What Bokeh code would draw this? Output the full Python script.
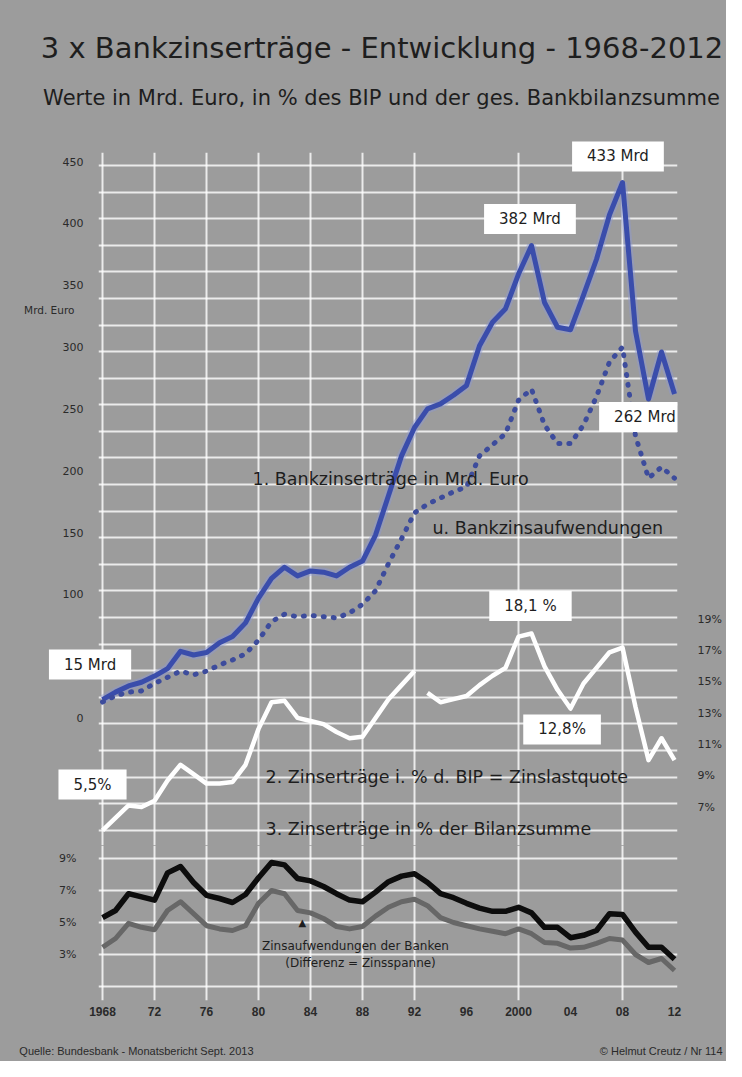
from bokeh.plotting import figure
from bokeh.models import Range1d, LinearAxis, FixedTicker, Label
from bokeh.layouts import column
from bokeh.embed import file_html
from bokeh.resources import INLINE

# ---------------- data ----------------
years = list(range(1968, 2013))
zinsertraege_mrd = [15, 21, 26, 29, 34, 40, 54, 51, 53, 61, 66, 77,
                    97, 113, 122, 115, 119, 118, 115, 122, 127, 148,
                    180, 212, 235, 250, 254, 261, 269, 301, 320, 331,
                    359, 382, 336, 316, 314, 342, 371, 407, 433, 313,
                    258, 296, 262]
zinsaufwand_mrd = [13, 18, 21, 22, 28, 33, 38, 35, 38, 43, 47, 52,
                   63, 78, 84, 82, 83, 82, 81, 85, 92, 103,
                   125, 145, 166, 173, 178, 183, 187, 212, 221, 230,
                   257, 266, 237, 222, 222, 237, 260, 288, 300, 228,
                   194, 203, 194]
years_west = list(range(1968, 1993))
zinslastquote_west = [5.5, 6.3, 7.1, 7.0, 7.4, 8.7, 9.7, 9.1, 8.5, 8.5, 8.6, 9.7,
                      12.0, 13.7, 13.8, 12.7, 12.5, 12.3, 11.8, 11.4, 11.5, 12.7,
                      13.9, 14.8, 15.7]
years_ges = list(range(1993, 2013))
zinslastquote_ges = [14.3, 13.7, 13.9, 14.1, 14.8, 15.4, 15.9,
                     17.9, 18.1, 16.0, 14.5, 13.3, 14.9, 15.9, 16.9, 17.2, 13.4,
                     10.0, 11.4, 10.0]
ertrag_bilanz = [5.3, 5.75, 6.8, 6.6, 6.4, 8.1, 8.5, 7.5, 6.7, 6.5, 6.25, 6.75,
                 7.8, 8.75, 8.6, 7.75, 7.6, 7.25, 6.8, 6.4, 6.3, 6.9,
                 7.55, 7.9, 8.05, 7.5, 6.8, 6.55, 6.2, 5.9, 5.7, 5.7,
                 5.95, 5.6, 4.7, 4.7, 4.05, 4.2, 4.5, 5.55, 5.5, 4.4,
                 3.45, 3.45, 2.7]
aufwand_bilanz = [3.45, 4.0, 4.95, 4.7, 4.55, 5.75, 6.3, 5.55, 4.8, 4.6, 4.5, 4.8,
                  6.2, 7.0, 6.8, 5.75, 5.6, 5.25, 4.75, 4.6, 4.75, 5.4,
                  5.95, 6.3, 6.45, 6.05, 5.3, 5.0, 4.8, 4.6, 4.45, 4.3,
                  4.6, 4.3, 3.75, 3.7, 3.4, 3.45, 3.7, 4.0, 3.9, 3.0,
                  2.5, 2.75, 2.0]

mrd_ticks = [0, 100, 150, 200, 250, 300, 350, 400, 450]
bip_ticks = [7, 9, 11, 13, 15, 17, 19]
bilanz_ticks = [3, 5, 7, 9]
year_ticks = list(range(1968, 2013, 4))
year_labels = ["1968", "72", "76", "80", "84", "88", "92", "96", "2000", "04", "08", "12"]

# ---------------- styling ----------------
BG = "#9c9c9c"
FONT = "DejaVu Sans"
FONT2 = "Liberation Sans"
TXT = "#1e1e1e"
W = 726
XR = Range1d(1967.69, 2012.23)


def mk_label(x, y, text, rng="default", font=FONT, size="15px", align="center",
             style="normal", color=TXT, boxed=False):
    kw = dict(x=x, y=y, text=text, y_range_name=rng, text_font=font,
              text_font_size=size, text_color=color, text_align=align,
              text_baseline="middle", text_font_style=style)
    if boxed:
        kw["background_fill_color"] = "white"
        try:
            return Label(padding=dict(left=15, right=15, top=6, bottom=6), **kw)
        except Exception:
            return Label(padding=7, **kw)
    return Label(**kw)


# ---------------- upper figure ----------------
p = figure(width=W, height=845, x_range=XR, y_range=Range1d(-103.0, 457.3),
           output_backend="svg", toolbar_location=None,
           x_axis_location=None, y_axis_location="left",
           min_border_left=98, min_border_right=49, min_border_top=152, min_border_bottom=0)
p.background_fill_color = BG
p.border_fill_color = BG
p.outline_line_color = None
p.extra_y_ranges = {"bip": Range1d(4.537, 48.88)}

# grids
hgrid = [446.8 - 21.5 * k for k in range(26)]
vgrid = [1968, 1972, 1976, 1980, 1984, 1988, 1992, 2000, 2008]
p.ygrid.ticker = FixedTicker(ticks=hgrid)
p.xgrid.ticker = FixedTicker(ticks=vgrid)
for g in (p.xgrid, p.ygrid):
    g.grid_line_color = "white"
    g.grid_line_width = 2
    g.grid_line_alpha = 0.8

yax = p.yaxis[0]
yax.ticker = FixedTicker(ticks=mrd_ticks)
rax = LinearAxis(y_range_name="bip", ticker=FixedTicker(ticks=bip_ticks),
                 major_label_overrides={t: f"{t}%" for t in bip_ticks})
p.add_layout(rax, "right")
for ax in (yax, rax):
    ax.axis_line_color = None
    ax.major_tick_line_color = None
    ax.minor_tick_line_color = None
    ax.major_tick_out = 0
    ax.major_tick_in = 0
    ax.major_label_text_font = FONT
    ax.major_label_text_font_size = "11px"
    ax.major_label_text_color = "#2a2a2a"
yax.major_label_standoff = 15
rax.major_label_standoff = 20

# lines
p.line(years, zinsertraege_mrd, line_color="#8f99d2", line_width=9, line_alpha=0.45)
p.line(years, zinsertraege_mrd, line_color="#3a4dab", line_width=5, line_join="round")
p.line(years, zinsaufwand_mrd, line_color="#3d4c9c", line_width=5, line_dash="1 9",
       line_cap="round", line_join="round")
p.line(years_west, zinslastquote_west, y_range_name="bip", line_color="white",
       line_width=4.5, line_join="round")
p.line(years_ges, zinslastquote_ges, y_range_name="bip", line_color="white",
       line_width=4.5, line_join="round")

# texts outside the frame go to side panels (not clipped there)
p.add_layout(mk_label(1989.5, 541.4, "3 x Bankzinserträge - Entwicklung - 1968-2012",
                      size="29px"), "above")
p.add_layout(mk_label(1989.46, 501.0,
                      "Werte in Mrd. Euro, in % des BIP und der ges. Bankbilanzsumme",
                      size="21px"), "above")
p.add_layout(mk_label(2007.65, 454.1, "433 Mrd", boxed=True), "above")
p.add_layout(mk_label(1967.04, 43.3, "15 Mrd", boxed=True), "above")
p.add_layout(mk_label(1967.23, 8.44, "5,5%", rng="bip", boxed=True), "above")
p.add_layout(mk_label(1963.9, 329.6, "Mrd. Euro", size="10.5px", color="#2a2a2a"), "left")

# texts inside the frame
p.add_layout(mk_label(2000.88, 403.5, "382 Mrd", boxed=True))
p.add_layout(mk_label(2009.73, 243.5, "262 Mrd", boxed=True))
p.add_layout(mk_label(2000.92, 19.86, "18,1 %", rng="bip", boxed=True))
p.add_layout(mk_label(2003.35, 11.96, "12,8%", rng="bip", boxed=True))

p.add_layout(mk_label(1979.54, 193.7, "1.  Bankzinserträge in Mrd. Euro",
                      size="17.5px", align="left"))
p.add_layout(mk_label(1993.38, 154.1, "u. Bankzinsaufwendungen",
                      size="17.5px", align="left"))
p.add_layout(mk_label(1980.54, 8.95, "2.  Zinserträge i. % d. BIP = Zinslastquote",
                      rng="bip", size="17.5px", align="left"))
p.add_layout(mk_label(1980.54, 5.62, "3.  Zinserträge in % der Bilanzsumme",
                      rng="bip", size="17.5px", align="left"))

# ---------------- lower figure ----------------
q = figure(width=W, height=216, x_range=XR, y_range=Range1d(0.125, 9.8125),
           output_backend="svg", toolbar_location=None,
           min_border_left=98, min_border_right=49, min_border_top=0, min_border_bottom=61)
q.background_fill_color = BG
q.border_fill_color = BG
q.outline_line_color = None
q.ygrid.ticker = FixedTicker(ticks=[1, 3, 5, 7, 9])
q.xgrid.ticker = FixedTicker(ticks=vgrid)
for g in (q.xgrid, q.ygrid):
    g.grid_line_color = "white"
    g.grid_line_width = 2
    g.grid_line_alpha = 0.8

qy = q.yaxis[0]
qy.ticker = FixedTicker(ticks=bilanz_ticks)
qy.major_label_overrides = {t: f"{t}%" for t in bilanz_ticks}
qx = q.xaxis[0]
qx.ticker = FixedTicker(ticks=year_ticks)
qx.major_label_overrides = dict(zip(year_ticks, year_labels))
for ax in (qy, qx):
    ax.axis_line_color = None
    ax.major_tick_line_color = None
    ax.minor_tick_line_color = None
    ax.major_tick_out = 0
    ax.major_tick_in = 0
    ax.major_label_text_color = "#2a2a2a"
qy.major_label_text_font = FONT
qy.major_label_text_font_size = "11px"
qy.major_label_standoff = 22
qx.major_label_text_font = FONT2
qx.major_label_text_font_size = "12px"
qx.major_label_text_font_style = "bold"
qx.major_label_standoff = 6

q.line(years, aufwand_bilanz, line_color="#676767", line_width=5, line_join="round")
q.line(years, ertrag_bilanz, line_color="#0d0d0d", line_width=5.5, line_join="round")

q.add_layout(mk_label(1983.38, 5.0, "▲", size="10px"))
q.add_layout(mk_label(1987.46, 3.56, "Zinsaufwendungen der Banken", size="12px"))
q.add_layout(mk_label(1987.85, 2.44, "(Differenz = Zinsspanne)", size="12px"))
q.add_layout(mk_label(1961.6, -3.0, "Quelle: Bundesbank - Monatsbericht Sept. 2013",
                      font=FONT2, size="11px", align="left", color="#2a2a2a"), "below")
q.add_layout(mk_label(2015.7, -3.0, "© Helmut Creutz / Nr 114",
                      font=FONT2, size="11px", align="right", color="#2a2a2a"), "below")

layout = column(p, q, spacing=0, styles={"background-color": BG})
open("out.html", "w").write(file_html(layout, INLINE))
